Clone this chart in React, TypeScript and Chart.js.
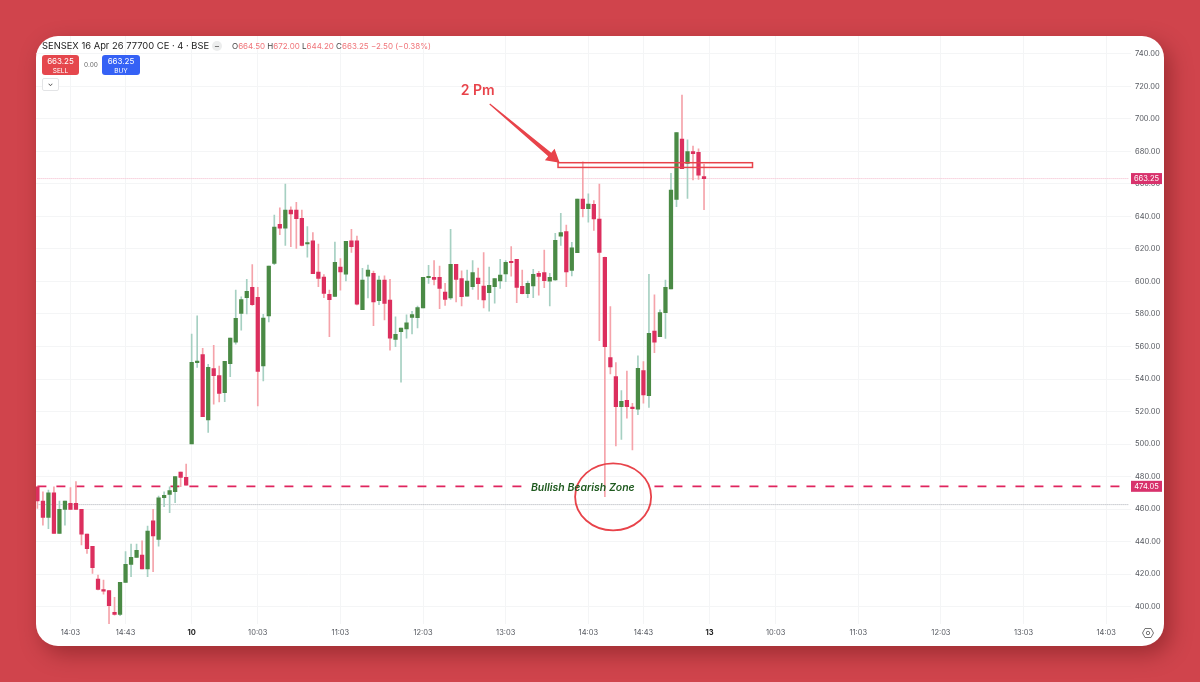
import React, { useEffect, useRef } from "react";
import { Chart, registerables } from "chart.js";

Chart.register(...registerables);

const opens = [
  473.8, 465, 455, 470.1, 445.1, 459.9, 463.6, 463.6, 459.9, 444.7, 437.1, 417, 410, 410, 396.6, 395.3, 415, 426.1, 430.4, 431.8,
  423.2, 452.9, 441.4, 467, 469.1, 470.7, 482.8, 479.5, 500.1, 550.1, 555, 514.8, 546.4, 542.1, 531.6, 549.5, 562.6, 580.4, 590, 596.4,
  590.2, 548, 578.8, 611.1, 635.1, 632.8, 643.9, 643.9, 638.8, 623, 624.9, 605.8, 602.7, 592.1, 590.8, 608.9, 604.4, 624.9, 624.9, 582.6,
  603.3, 605, 588.2, 600.9, 588.6, 564.4, 569.1, 570.8, 577.9, 577.7, 583.7, 602.3, 602.5, 602.5, 593.5, 589.8, 610.5, 601.7, 591, 596.8,
  602.1, 597.2, 593.1, 596.8, 600.3, 604.6, 612, 613.6, 597, 592.5, 597.2, 605, 605.4, 600.1, 600.9, 627.9, 630.6, 606.8, 617.7, 650.7,
  644.8, 647.4, 638.4, 614.8, 553.2, 541.5, 523, 526.9, 522, 521.4, 545.2, 529.8, 569.5, 566, 580.8, 595.4, 650.5, 687.6, 672.6, 679.8,
  679.4, 664.5,
];
const highs = [
  473.8, 470.7, 471.8, 473.8, 465, 465, 473.2, 476.9, 459.9, 444.7, 437.1, 419.5, 416.4, 410, 405.8, 415, 433.9, 438.6, 438.6, 440.6,
  449.6, 459.9, 468.1, 470.7, 473.8, 480, 482.8, 487.7, 567.7, 578.8, 558.9, 549, 560.7, 548, 550.9, 565.2, 594.7, 590.6, 601.3, 610.3,
  596.4, 579.8, 609.5, 640.8, 645.3, 659.9, 645.9, 648.6, 643.9, 633.7, 630, 623, 604.2, 594.7, 624.2, 614, 624.7, 632, 627.9, 608.1,
  610.1, 606.4, 603.3, 603.5, 601.3, 578.3, 571.4, 579.4, 581.6, 584.9, 602.5, 609.9, 612.8, 609.5, 598.8, 632, 610.5, 606.6, 607, 612.8,
  608.2, 617.7, 608.9, 601.7, 613.6, 612.8, 621.4, 613.6, 607, 600.3, 607.4, 606.2, 619.3, 605, 629.6, 641.9, 634.7, 624.1, 650.7, 673.6,
  653.8, 649.7, 659.9, 615, 584.5, 550.1, 532.9, 544.9, 525.1, 554.2, 550.7, 604.4, 591.7, 582.5, 600.9, 666.5, 691.5, 714.6, 687, 683.3,
  681.6, 672,
];
const lows = [
  460.5, 450.2, 448, 445.1, 445.1, 450.2, 459.9, 459.9, 438, 432.8, 420.5, 410.3, 407.8, 389.4, 394.9, 394.5, 415, 418.5, 430.4, 423.2,
  418.5, 421.6, 437.3, 461.5, 457.8, 464, 473.8, 474.8, 500.1, 547.2, 516.9, 507.2, 524.5, 525.9, 526.1, 541.5, 561.5, 570.1, 580, 585.3,
  523.4, 538.8, 575.1, 610.3, 628.7, 622.2, 621.4, 620.3, 621.8, 615, 604.8, 596.8, 590, 566.1, 590.6, 594.7, 600.3, 617.9, 585.5, 582.6,
  589.8, 572.8, 585.7, 576.3, 557.8, 559.9, 538, 565.2, 567.7, 571.4, 583.7, 598.8, 597.8, 583.3, 585.3, 589, 587.4, 584.9, 591, 595.1,
  589, 583.7, 581.8, 586.7, 595.7, 599.8, 603.3, 586.9, 592.3, 590, 590, 591.6, 596.2, 584.9, 600.7, 622.2, 596.8, 603.4, 617.7, 639.6,
  636.4, 631.4, 563.6, 467.7, 543.1, 498.9, 502.9, 515.9, 496.4, 518.1, 525.1, 522.6, 556.2, 566, 565, 595.4, 646, 669.3, 651.1, 662.4,
  662.8, 644.2,
];
const closes = [
  465, 455, 470.1, 445.1, 459.9, 465, 459.9, 459.9, 444.7, 435.7, 424, 410.7, 409.6, 400.7, 395.3, 415, 426.1, 430.4, 434.7, 423.2,
  446.6, 443.5, 467, 468.5, 471.4, 480, 479.5, 474.8, 550.3, 550.9, 516.9, 547.2, 542.1, 531.2, 550.9, 565.2, 577.3, 588.8, 593.9, 585.7,
  544.7, 577.5, 609.5, 633.5, 632.8, 643.9, 641.5, 638.6, 622.2, 623.8, 604.8, 601.9, 592.7, 588.8, 611.7, 605.8, 624.7, 621.4, 586.1, 600.9,
  607, 587.4, 600.9, 586.5, 565.2, 567.5, 571.4, 574.6, 579.6, 583.9, 602.5, 602.9, 601.3, 595.7, 589, 610.5, 601.3, 590.6, 600.3, 605.4,
  598.6, 588.6, 597.6, 601.7, 603.9, 611.7, 611.5, 596.4, 592.5, 598.8, 604.4, 603.1, 600.5, 602.5, 625.3, 630, 605.8, 620.6, 650.7, 644.8,
  647.6, 638.4, 617.9, 559.9, 547.4, 523, 526.3, 523, 521.8, 546.6, 530.2, 568.1, 562.6, 580.8, 596.4, 656.2, 691.5, 669.3, 679.8, 678.6,
  665.4, 663.25,
];

const slotCount = 199;
const tickSlots = [6, 16, 28, 40, 55, 70, 85, 100, 110, 122, 134, 149, 164, 179, 194];
const tickNames = ["14:03", "14:43", "10", "10:03", "11:03", "12:03", "13:03", "14:03", "14:43", "13", "10:03", "11:03", "12:03", "13:03", "14:03"];
const priceTicks = [400, 420, 440, 460, 480, 500, 520, 540, 560, 580, 600, 620, 640, 660, 680, 700, 720, 740];

const lastPrice = 663.25;
const zonePrice = 474.05;
const lowLinePrice = 462.8;

const slotLabels = Array.from({ length: slotCount }, (_, i) => {
  const k = tickSlots.indexOf(i);
  return k < 0 ? "" : tickNames[k];
});

const upColor = "#4a8a45";
const downColor = "#dc2f5e";
const upWick = "#a6d0c2";
const downWick = "#f5a3aa";
const markColor = "#e8434a";
const font = "Inter, 'Liberation Sans', sans-serif";

const isUp = (i: number) => closes[i] >= opens[i];

const overlays = {
  id: "overlays",
  afterDatasetsDraw(chart: any) {
    const { ctx, scales } = chart;
    const sx = (v: number) => scales.x.getPixelForValue(v);
    const sy = (v: number) => scales.y.getPixelForValue(v);
    ctx.save();

    // 2 Pm box
    ctx.strokeStyle = markColor;
    ctx.lineWidth = 1.5;
    ctx.strokeRect(sx(94.5), sy(673), sx(129.8) - sx(94.5), sy(670.1) - sy(673));

    // arrow to the box, shaft widens towards the head
    const x1 = sx(82.1);
    const y1 = sy(709.1);
    const x2 = sx(94.8);
    const y2 = sy(672.9);
    const ang = Math.atan2(y2 - y1, x2 - x1);
    const cos = Math.cos(ang);
    const sin = Math.sin(ang);
    const neckX = x2 - 13 * cos;
    const neckY = y2 - 13 * sin;
    ctx.fillStyle = markColor;
    ctx.beginPath();
    ctx.moveTo(x1 - 0.6 * sin, y1 + 0.6 * cos);
    ctx.lineTo(neckX - 2.4 * sin, neckY + 2.4 * cos);
    ctx.lineTo(neckX - 7.5 * sin, neckY + 7.5 * cos);
    ctx.lineTo(x2, y2);
    ctx.lineTo(neckX + 7.5 * sin, neckY - 7.5 * cos);
    ctx.lineTo(neckX + 2.4 * sin, neckY - 2.4 * cos);
    ctx.lineTo(x1 + 0.6 * sin, y1 - 0.6 * cos);
    ctx.closePath();
    ctx.fill();

    ctx.font = `600 14px ${font}`;
    ctx.textAlign = "center";
    ctx.textBaseline = "middle";
    ctx.fillText("2 Pm", sx(79.9), sy(717.2));

    // circle round the low wick
    ctx.lineWidth = 1.8;
    ctx.beginPath();
    ctx.ellipse(sx(104.5), sy(467.6), sx(111.4) - sx(104.5), sy(447) - sy(467.6), 0, 0, Math.PI * 2);
    ctx.stroke();

    ctx.fillStyle = "#1f5a1f";
    ctx.font = `italic 600 10.5px ${font}`;
    ctx.fillText("Bullish Bearish Zone", sx(99), sy(473.4));

    // price tags on the scale
    [lastPrice, zonePrice].forEach((p) => {
      const yy = sy(p);
      ctx.fillStyle = "#d8326c";
      ctx.fillRect(scales.y.left, yy - 5.5, 31, 11);
      ctx.fillStyle = "#ffffff";
      ctx.font = `7.5px ${font}`;
      ctx.fillText(p.toFixed(2), scales.y.left + 15.5, yy + 0.5);
    });
    ctx.restore();
  },
};

const box = (left: number, top: number, extra: React.CSSProperties = {}): React.CSSProperties => ({
  position: "absolute",
  left: left - 36,
  top: top - 36,
  whiteSpace: "nowrap",
  ...extra,
});

const App: React.FC = () => {
  const canvasRef = useRef<HTMLCanvasElement | null>(null);

  useEffect(() => {
    if (!canvasRef.current) return;
    const chart = new Chart(canvasRef.current, {
      type: "bar",
      data: {
        labels: slotLabels,
        datasets: [
          {
            type: "line",
            data: slotLabels.map(() => lastPrice),
            borderColor: "#f3b6c8",
            borderWidth: 1,
            borderDash: [1, 1],
            pointRadius: 0,
            order: 5,
          },
          {
            type: "line",
            data: slotLabels.map(() => lowLinePrice),
            borderColor: "#a9acb3",
            borderWidth: 1,
            borderDash: [1, 1],
            pointRadius: 0,
            order: 5,
          },
          {
            type: "line",
            data: slotLabels.map((_, i) => (i < 89 || i > 111 ? zonePrice : null)),
            borderColor: "#e0245e",
            borderWidth: 1.8,
            borderDash: [9, 10],
            pointRadius: 0,
            order: 4,
          },
          {
            data: lows.map((l, i) => [l, highs[i]]),
            backgroundColor: lows.map((_, i) => (isUp(i) ? upWick : downWick)),
            barThickness: 1,
            grouped: false,
            order: 3,
          },
          {
            data: opens.map((o, i) => [o, closes[i]]),
            backgroundColor: opens.map((_, i) => (isUp(i) ? upColor : downColor)),
            barThickness: 3.6,
            minBarLength: 1.5,
            grouped: false,
            order: 2,
          },
        ] as any,
      },
      options: {
        animation: false,
        responsive: false,
        layout: { padding: { left: 34.65, top: 36, right: 0, bottom: 36 } },
        plugins: { legend: { display: false }, tooltip: { enabled: false } },
        scales: {
          x: {
            offset: true,
            grid: { offset: false, color: "#f4f5f6", drawTicks: false },
            border: { display: false },
            afterBuildTicks: (scale: any) => {
              scale.ticks = tickSlots.map((value) => ({ value }));
            },
            afterFit: (scale: any) => {
              scale.height = 22;
            },
            ticks: {
              autoSkip: false,
              maxRotation: 0,
              padding: 4,
              color: (c: any) => (c.tick && /^1[03]$/.test(slotLabels[c.tick.value]) ? "#222" : "#55585f"),
              font: (c: any) => ({
                family: font,
                size: 7.5,
                weight: c.tick && /^1[03]$/.test(slotLabels[c.tick.value]) ? "bold" : "normal",
              }),
              callback: (v: any) => slotLabels[v],
            },
          },
          y: {
            position: "right",
            min: 389.4,
            max: 750.9,
            grid: { color: "#f4f5f6", drawTicks: false },
            border: { display: false },
            afterBuildTicks: (scale: any) => {
              scale.ticks = priceTicks.map((value) => ({ value }));
            },
            afterFit: (scale: any) => {
              scale.width = 69;
            },
            ticks: {
              padding: 4,
              color: "#55585f",
              font: { family: font, size: 7.5 },
              callback: (v: any) => Number(v).toFixed(2),
            },
          },
        },
      },
      plugins: [overlays],
    } as any);
    return () => chart.destroy();
  }, []);

  return (
    <div style={{ position: "fixed", inset: 0, background: "#d0444c", overflow: "hidden" }}>
      <div
        style={{
          position: "absolute",
          left: 36,
          top: 36,
          width: 1128,
          height: 610,
          borderRadius: 22,
          background: "#fff",
          boxShadow: "6px 8px 22px rgba(60,0,0,0.35)",
        }}
      />
      <div
        style={{
          position: "absolute",
          left: 36,
          top: 36,
          width: 1128,
          height: 610,
          borderRadius: 22,
          overflow: "hidden",
          fontFamily: font,
        }}
      >
        <canvas ref={canvasRef} width={1200} height={682} style={{ position: "absolute", left: -36, top: -36 }} />
        <div style={box(42, 39, { fontSize: 9.4, color: "#222", lineHeight: "14px" })}>SENSEX 16 Apr 26 77700 CE · 4 · BSE</div>
        <div style={box(212, 41, { width: 10, height: 10, borderRadius: 5, background: "#eceded", color: "#555", fontSize: 9, lineHeight: "9px", textAlign: "center" })}>−</div>
        <div style={box(232, 40, { fontSize: 8, lineHeight: "12px", color: "#f0757a" })}>
          <span style={{ color: "#444" }}>O</span>664.50 <span style={{ color: "#444" }}>H</span>672.00{" "}
          <span style={{ color: "#444" }}>L</span>644.20 <span style={{ color: "#444" }}>C</span>663.25 −2.50 (−0.38%)
        </div>
        <div style={box(42, 55, { width: 37, height: 20, borderRadius: 3, background: "#e5474d", color: "#fff", fontSize: 8, lineHeight: "9px", textAlign: "center", paddingTop: 2, boxSizing: "border-box" })}>
          663.25
          <br />
          <span style={{ fontSize: 6.5 }}>SELL</span>
        </div>
        <div style={box(84, 61, { fontSize: 6.5, lineHeight: "9px", color: "#666" })}>0.00</div>
        <div style={box(102, 55, { width: 38, height: 20, borderRadius: 3, background: "#3561f5", color: "#fff", fontSize: 8, lineHeight: "9px", textAlign: "center", paddingTop: 2, boxSizing: "border-box" })}>
          663.25
          <br />
          <span style={{ fontSize: 6.5 }}>BUY</span>
        </div>
        <div style={box(42, 78, { width: 17, height: 13, borderRadius: 2, border: "1px solid #e3e4e6", boxSizing: "border-box", background: "#fff", textAlign: "center", fontSize: 7, lineHeight: "10px", color: "#333" })}>⌄</div>
        <svg style={box(1142, 627)} width={12} height={12} viewBox="0 0 12 12">
          <polygon points="3,1.5 9,1.5 11.5,6 9,10.5 3,10.5 0.5,6" fill="none" stroke="#666" strokeWidth="0.9" />
          <circle cx="6" cy="6" r="1.7" fill="none" stroke="#666" strokeWidth="0.9" />
        </svg>
      </div>
    </div>
  );
};

export default App;
